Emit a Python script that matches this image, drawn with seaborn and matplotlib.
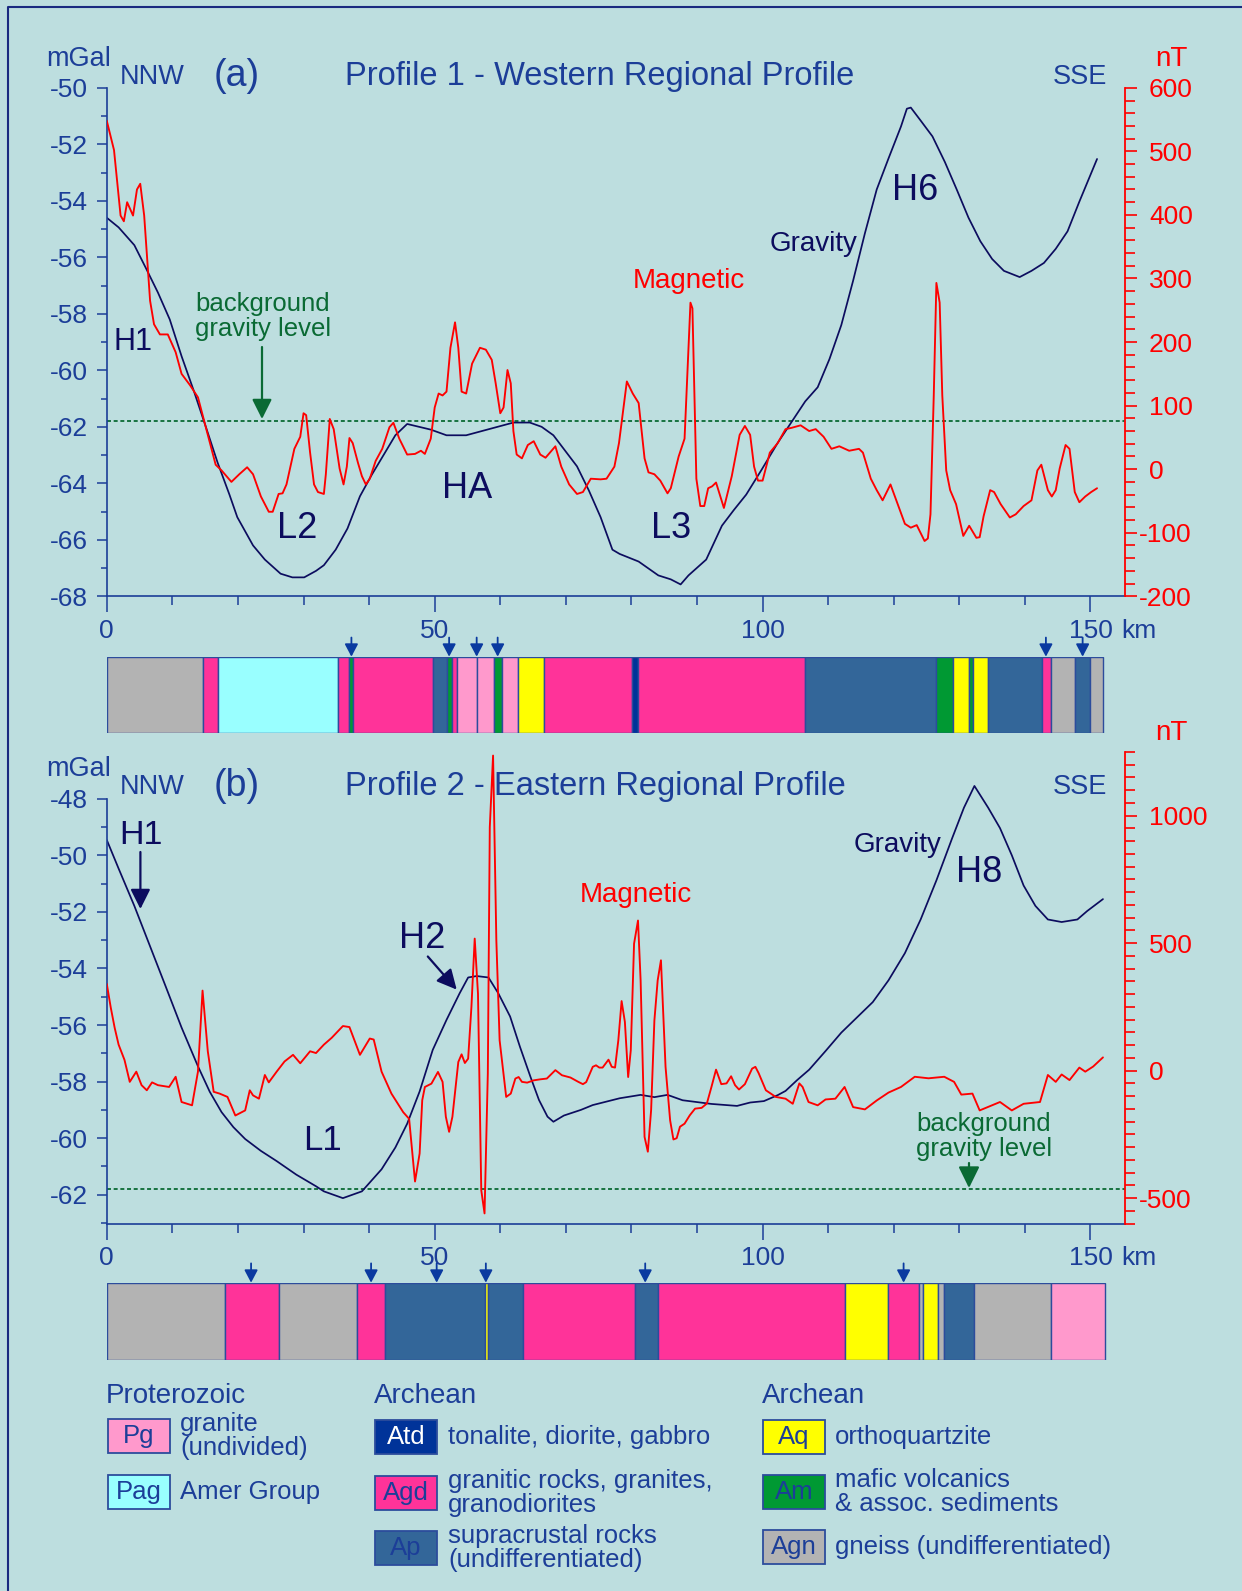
import matplotlib
matplotlib.use("Agg")
import matplotlib.pyplot as plt
from matplotlib.patches import Rectangle
from matplotlib.transforms import ScaledTranslation
import seaborn as sns

BG = "#bddedf"
AXBLUE = "#1c3e98"
NAVY = "#0c0c5e"
RED = "#ff0000"
GREEN = "#0a6a34"
EDGE = "#2c4c9c"

UNIT_COLORS = {
    "Pg": "#ff99cc", "Pag": "#99ffff", "Atd": "#003399", "Agd": "#ff3399",
    "Ap": "#336699", "Aq": "#ffff00", "Am": "#009933", "Agn": "#b3b3b3",
}

# profile 1 - western
grav1_km = [0, 1.8, 4.2, 6.0, 7.8, 9.6, 11.4, 13.3, 15.1, 16.9, 18.7, 19.9, 22.3, 24.1, 26.5, 28.3,
            30.1, 31.9, 33.1, 34.9, 36.7, 38.6, 40.4, 42.2, 44.0, 45.8, 47.6, 49.4, 51.8, 54.8, 57.2,
            59.6, 62.0, 64.5, 66.3, 68.1, 69.9, 71.7, 73.5, 75.3, 77.1, 78.2, 81.1, 84.1, 86.0, 87.5,
            88.7, 91.4, 93.8, 95.6, 97.5, 99.9, 102.3, 104.7, 106.5, 108.4, 110.2, 112.0, 113.8, 115.6,
            117.4, 119.2, 121.1, 122.0, 122.6, 124.1, 125.9, 127.8, 129.6, 131.4, 133.2, 135.0, 136.8,
            139.2, 141.0, 142.9, 144.7, 146.5, 148.3, 151.0]
grav1_mgal = [-54.6, -54.94, -55.57, -56.4, -57.25, -58.2, -59.5, -60.75, -62.0, -63.27, -64.4, -65.2,
              -66.2, -66.7, -67.2, -67.33, -67.33, -67.1, -66.9, -66.35, -65.6, -64.46, -63.7, -63.0,
              -62.3, -61.9, -62.0, -62.1, -62.3, -62.3, -62.15, -62.0, -61.85, -61.85, -62.0, -62.3,
              -62.85, -63.4, -64.25, -65.2, -66.35, -66.5, -66.77, -67.26, -67.4, -67.58, -67.26, -66.7,
              -65.5, -64.95, -64.4, -63.5, -62.57, -61.73, -61.1, -60.6, -59.6, -58.4, -56.83, -55.15,
              -53.6, -52.5, -51.37, -50.74, -50.7, -51.16, -51.72, -52.63, -53.6, -54.6, -55.43, -56.06,
              -56.48, -56.7, -56.48, -56.2, -55.7, -55.08, -54.03, -52.52]
mag1_km = [0, 1.1, 2.1, 2.6, 3.1, 4.0, 4.6, 5.1, 5.7, 6.6, 7.2, 8.1, 9.3, 10.5, 11.4, 12.7, 13.9, 15.1,
           16.6, 17.5, 19.0, 20.2, 21.4, 22.3, 23.5, 24.7, 25.3, 26.2, 26.8, 27.4, 28.6, 29.5, 30.0, 30.4,
           31.0, 31.6, 32.2, 33.1, 33.4, 34.0, 34.6, 35.5, 36.1, 36.6, 37.0, 37.5, 38.3, 38.9, 39.5, 40.1,
           41.0, 42.0, 43.1, 43.7, 44.6, 45.8, 47.0, 47.9, 48.5, 49.4, 50.0, 50.6, 51.2, 51.8, 52.4, 53.1,
           53.6, 54.1, 54.8, 55.7, 56.9, 57.8, 58.7, 59.3, 60.0, 60.5, 61.1, 61.6, 62.0, 62.5, 63.3, 64.2,
           65.1, 66.1, 66.9, 68.4, 69.3, 70.5, 71.7, 72.6, 73.8, 75.3, 76.2, 77.4,
           78.1, 79.3, 80.2, 81.1, 82.0, 82.6, 83.5, 84.4, 85.5, 86.0, 87.2, 88.1, 89.0, 89.3, 89.9, 90.5,
           91.1, 91.7, 92.3, 92.9, 94.1, 95.3, 96.5, 97.3, 98.1, 98.7, 99.3, 100.0, 101.1, 102.3, 103.5,
           104.4, 105.8, 107.1, 108.1, 109.3, 110.5, 111.7, 113.2, 114.7, 115.3, 116.5, 117.4, 118.3,
           119.5, 120.5, 121.7, 122.6, 123.5, 124.7, 125.2, 125.6, 126.1, 126.5, 127.0, 127.4, 128.0,
           128.6, 129.5, 130.6, 131.5, 132.6, 133.1, 133.7, 134.7, 135.3, 136.3, 137.7, 138.6, 139.8,
           141.0, 141.9, 142.5, 143.5, 144.1, 144.7, 145.3, 146.2, 146.8, 147.6, 148.3, 149.2, 150.1, 151.0]
mag1_nt = [548, 502, 399, 390, 420, 399, 440, 449, 399, 265, 228, 212, 212, 184, 150, 132, 113, 66, 7, -2,
           -20, -8, 3, -8, -43, -67, -67, -39, -38, -24, 32, 51, 88, 85, 26, -24, -36, -39, -8, 79, 63, 1,
           -24, 4, 49, 41, 10, -11, -24, -15, 13, 32, 66, 73, 48, 23, 24, 29, 24, 48, 97, 119, 116, 122,
           191, 231, 191, 122, 119, 166, 191, 188, 172, 135, 88, 97, 156, 135, 60, 23, 17, 38, 44, 23, 18,
           36, 4, -24, -39, -36, -15, -16, -15, 4,
           41, 138, 119, 104, 17, -5, -8, -18, -38, -30, 20, 48, 262, 253, -15, -58, -58, -30, -27, -21,
           -61, -11, 54, 68, 54, 4, -18, -18, 26, 41, 63, 65, 69, 60, 63, 51, 32, 36, 29, 32, 26, -15, -33,
           -49, -24, -52, -86, -92, -88, -113, -109, -71, 116, 293, 262, 116, -2, -33, -55, -105, -89,
           -108, -107, -74, -33, -36, -55, -76, -71, -58, -49, -2, 7, -33, -43, -33, 1, 38, 32, -36, -52,
           -43, -36, -30]
geo1_edges = [0, 14.6, 16.9, 35.2, 36.9, 37.6, 49.8, 51.9, 52.6, 53.4, 56.4, 59.0, 60.3, 62.7, 66.7, 80.1,
              81.0, 106.5, 126.5, 129.1, 131.5, 132.1, 134.3, 142.6, 144.0, 147.7, 149.9, 151.9]
geo1_units = ["Agn", "Agd", "Pag", "Agd", "Am", "Agd", "Ap", "Am", "Agd", "Pg", "Pg", "Am", "Pg", "Aq",
              "Agd", "Atd", "Agd", "Ap", "Am", "Aq", "Am", "Aq", "Ap", "Agd", "Agn", "Ap", "Agn"]
geo1_arrows = [37.3, 52.2, 56.4, 59.6, 143.2, 148.8]

# profile 2 - eastern
grav2_km = [0, 1.8, 4.2, 6.6, 9.0, 11.4, 13.9, 15.7, 17.5, 19.3, 21.1, 23.5, 25.9, 28.9, 31.9, 33.1, 36.0,
            38.9, 41.9, 44.0, 45.8, 47.7, 49.7, 51.8, 53.8, 55.1, 56.4, 58.2, 59.7, 61.5, 63.0, 64.6, 65.9,
            67.2, 68.1, 69.7, 72.3, 74.1, 78.2, 81.4, 83.5, 85.5, 87.8, 92.2, 96.1, 98.1, 100.2, 102.3,
            103.5, 105.3, 107.1, 109.6, 112.0, 114.4, 116.8, 119.2, 121.7, 124.1, 126.5, 128.9, 130.7,
            132.3, 134.4, 136.2, 138.0, 139.8, 141.6, 143.5, 145.6, 148.0, 149.5, 151.9]
grav2_mgal = [-49.46, -50.47, -51.79, -53.22, -54.65, -56.09, -57.46, -58.36, -59.08, -59.61, -60.03,
              -60.45, -60.81, -61.29, -61.7, -61.88, -62.12, -61.88, -61.1, -60.33, -59.49, -58.35, -56.88,
              -55.82, -54.88, -54.32, -54.27, -54.32, -54.88, -55.7, -56.77, -57.83, -58.65, -59.24,
              -59.42, -59.2, -59.0, -58.83, -58.59, -58.47, -58.55, -58.47, -58.66, -58.79, -58.86,
              -58.74, -58.69, -58.48, -58.33, -57.94, -57.58, -56.92, -56.27, -55.73, -55.19, -54.42,
              -53.46, -52.27, -50.89, -49.4, -48.32, -47.55, -48.32, -49.04, -50.0, -51.07, -51.79,
              -52.27, -52.36, -52.27, -51.97, -51.55]
mag2_km = [0, 0.6, 1.2, 1.8, 2.7, 3.5, 4.5, 5.3, 6.1, 6.9, 7.8, 9.5, 10.5, 11.4, 13.0, 13.9, 14.6, 15.4,
           16.3, 17.2, 18.4, 19.6, 21.1, 21.8, 22.3, 23.2, 24.1, 24.7, 25.9, 27.1, 28.4, 29.5, 31.0, 31.9,
           33.1, 34.3, 36.0, 37.0, 38.6, 40.1, 40.7, 41.9, 43.4, 45.2, 46.1, 47.0, 47.7, 48.1, 48.5, 49.5,
           50.5, 51.2, 51.7, 52.2, 52.7, 53.6, 54.1, 54.6, 55.1, 55.6, 56.1, 56.6, 57.1, 57.6, 58.1, 58.4,
           58.9, 59.4, 59.9, 60.6, 60.9, 61.6, 62.3, 62.8, 63.3, 64.1, 65.1, 66.1, 67.1, 68.4, 69.4, 70.7,
           71.9, 72.6, 73.1, 74.1, 74.6, 75.1, 75.6, 76.5, 77.0, 77.5, 78.0, 78.5, 79.0, 79.5, 79.9, 80.4,
           81.0, 81.4, 82.0, 82.5, 83.0, 83.5, 84.0, 84.5, 85.2, 85.9, 86.4, 86.9, 87.4, 88.1, 88.9, 89.7,
           90.7, 91.5, 92.2, 92.9, 93.7, 94.5, 95.2, 95.8, 96.4, 97.3, 98.4, 98.9, 99.4, 100.5, 102.0,
           103.5, 104.6, 105.6, 106.1, 107.0, 108.4, 109.6, 111.1, 112.5, 113.8, 115.6, 117.4, 119.2,
           121.1, 123.2, 125.3, 127.7, 129.2, 130.3, 132.0, 133.1, 134.7, 136.2, 138.0, 139.8, 142.3,
           143.5, 144.7, 145.6, 146.8, 148.3, 149.2, 150.4, 151.9]
mag2_nt = [340, 248, 168, 102, 42, -44, -4, -57, -77, -46, -57, -64, -24, -123, -136, -4, 314, 76, -83,
           -90, -103, -176, -156, -77, -97, -110, -17, -46, -4, 36, 62, 29, 76, 69, 102, 129, 175, 171, 62,
           126, 122, -4, -90, -163, -189, -435, -325, -116, -64, -51, -5, -44, -181, -240, -181, 34, 64,
           30, 47, 250, 518, 302, -469, -560, -11, 955, 1236, 511, 119, -38, -103, -90, -31, -25, -44,
           -47, -38, -34, -31, 2, -18, -27, -44, -53, -45, 15, 21, 12, 12, 43, 15, 12, 119, 273, 191,
           -25, 80, 498, 589, 354, -260, -318, -155, 197, 354, 433, 15, -195, -270, -265, -220, -208,
           -175, -149, -146, -129, -64, 4, -53, -50, -22, -57, -74, -53, 8, 15, -10, -77, -103, -110,
           -130, -50, -64, -123, -136, -113, -110, -64, -143, -152, -117, -86, -64, -24, -30, -24, -44,
           -94, -90, -156, -139, -123, -156, -130, -123, -17, -44, -15, -37, 12, -4, 16, 52]
geo2_edges = [0, 18.0, 26.2, 38.2, 42.4, 57.6, 58.1, 63.5, 80.5, 84.0, 112.5, 119.1, 123.9, 124.4, 126.7,
              127.6, 132.3, 144.0, 152.2]
geo2_units = ["Agn", "Agd", "Agn", "Agd", "Ap", "Aq", "Ap", "Agd", "Ap", "Agd", "Aq", "Agd", "Agn", "Aq",
              "Agn", "Ap", "Agn", "Pg"]
geo2_arrows = [22.0, 40.3, 50.3, 57.8, 82.1, 121.5]

BACKGROUND_LEVEL = -61.8
KM_TICKS = [0, 50, 100, 150]

legend_codes = ["Pg", "Pag", "Atd", "Agd", "Ap", "Aq", "Am", "Agn"]
legend_text = ["granite\n(undivided)", "Amer Group", "tonalite, diorite, gabbro",
               "granitic rocks, granites,\ngranodiorites", "supracrustal rocks\n(undifferentiated)",
               "orthoquartzite", "mafic volcanics\n& assoc. sediments", "gneiss (undifferentiated)"]
legend_headers = ["Proterozoic", "Archean", "Archean"]

W, H = 1242, 1591
XMAX = 155.2

sns.set_theme(style="ticks", rc={"axes.facecolor": BG, "figure.facecolor": BG})
plt.rcParams["font.family"] = ["Liberation Sans", "DejaVu Sans"]
plt.rcParams["axes.unicode_minus"] = False

fig = plt.figure(figsize=(W / 100, H / 100), dpi=100, facecolor=BG)


def rect(left, top, right, bottom):
    return [left / W, 1 - bottom / H, (right - left) / W, (bottom - top) / H]


def draw_profile(box, g_km, g_val, m_km, m_val, g_lim, g_top, m_lim, m_major, m_minor):
    ax = fig.add_axes(box)
    ax.patch.set_alpha(0)
    sns.lineplot(x=g_km, y=g_val, ax=ax, color=NAVY, lw=1.25, estimator=None, sort=False)
    ax.axhline(BACKGROUND_LEVEL, color=GREEN, lw=1.3, ls=(0, (2.2, 1.5)), zorder=1)
    ax.set_xlim(0, XMAX)
    ax.set_ylim(*g_lim)
    gmin = int(round(g_lim[0]))
    ax.set_yticks(list(range(gmin, g_top + 1, 2)) if gmin % 2 == 0 else list(range(gmin + 1, g_top + 1, 2)))
    ax.set_yticks(list(range(gmin, g_top + 1)), minor=True)
    ax.set_xticks(KM_TICKS, labels=[str(k) for k in KM_TICKS])
    ax.set_xticks(list(range(0, 151, 10)), minor=True)
    ax.set_xlabel("")
    ax.set_ylabel("")
    for s in ("top", "right"):
        ax.spines[s].set_visible(False)
    for s in ("left", "bottom"):
        ax.spines[s].set_color(AXBLUE)
        ax.spines[s].set_linewidth(1.2)
    ax.spines["left"].set_bounds(g_lim[0], g_top)
    ax.tick_params(axis="y", which="major", length=7.5, width=1.1, color=AXBLUE,
                   labelcolor=AXBLUE, labelsize=19, pad=6)
    ax.tick_params(axis="y", which="minor", length=4.5, width=1.1, color=AXBLUE)
    ax.tick_params(axis="x", which="major", length=11.5, width=1.1, color=AXBLUE,
                   labelcolor=AXBLUE, labelsize=19, pad=4.5)
    ax.tick_params(axis="x", which="minor", length=6.5, width=1.1, color=AXBLUE)

    ax2 = ax.twinx()
    ax2.patch.set_alpha(0)
    sns.lineplot(x=m_km, y=m_val, ax=ax2, color=RED, lw=1.35, estimator=None, sort=False)
    ax2.set_ylim(*m_lim)
    ax2.set_yticks(m_major, labels=[str(v) for v in m_major])
    ax2.set_yticks(m_minor, minor=True)
    ax2.set_ylabel("")
    for s in ("top", "left", "bottom"):
        ax2.spines[s].set_visible(False)
    ax2.spines["right"].set_color(RED)
    ax2.spines["right"].set_linewidth(1.3)
    ax2.tick_params(axis="y", which="major", length=8.5, width=1.2, color=RED,
                    labelcolor=RED, labelsize=19, pad=9)
    ax2.tick_params(axis="y", which="minor", length=7, width=1.2, color=RED)
    # minus signs hang to the left of the digit column, as in the original
    hang = ScaledTranslation(-0.1, 0, fig.dpi_scale_trans)
    for tick in ax2.yaxis.get_major_ticks():
        if tick.label2.get_text().startswith("-"):
            tick.label2.set_transform(tick.label2.get_transform() + hang)
    return ax, ax2


def draw_geology(box, edges, units, arrows):
    gx = fig.add_axes(box)
    starts = edges[:-1]
    widths = [b - a for a, b in zip(edges[:-1], edges[1:])]
    gx.barh([0.5] * len(units), widths, left=starts, height=1.0,
            color=[UNIT_COLORS[u] for u in units], edgecolor=EDGE, linewidth=1.0)
    gx.set_xlim(0, XMAX)
    gx.set_ylim(0, 1)
    gx.axis("off")
    for km in arrows:
        gx.annotate("", xy=(km, 1.0), xytext=(km, 1.25), annotation_clip=False,
                    arrowprops=dict(arrowstyle="-|>,head_length=0.38,head_width=0.2",
                                    color="#0a3aa0", lw=1.3, shrinkA=0, shrinkB=0,
                                    mutation_scale=20))


draw_profile(rect(106.8, 87.8, 1124.6, 596.3), grav1_km, grav1_mgal, mag1_km, mag1_nt,
             (-68, -50), -50, (-200, 600), list(range(-200, 601, 100)), list(range(-200, 601, 20)))
draw_geology(rect(106.8, 656.7, 1124.6, 733.3), geo1_edges, geo1_units, geo1_arrows)

draw_profile(rect(106.8, 752, 1124.6, 1223.6), grav2_km, grav2_mgal, mag2_km, mag2_nt,
             (-63.02, -46.35), -48, (-600, 1250), [-500, 0, 500, 1000], list(range(-600, 1251, 50)))
draw_geology(rect(106.8, 1282.7, 1124.6, 1360), geo2_edges, geo2_units, geo2_arrows)

# overlay in pixel coordinates for annotations and legend
ov = fig.add_axes([0, 0, 1, 1])
ov.set_xlim(0, W)
ov.set_ylim(H, 0)
ov.axis("off")
ov.plot([8, 8, W + 5], [H + 5, 7, 7], color="#1a2a80", lw=1.5, clip_on=False)


def txt(x, y, s, size, color, ha="left", **kw):
    ov.text(x, y, s, fontsize=size, color=color, ha=ha, va="center", **kw)


def arrow(x0, y0, x1, y1, color, hl=0.6, hw=0.3):
    ov.annotate("", xy=(x1, y1), xytext=(x0, y0),
                arrowprops=dict(arrowstyle=f"-|>,head_length={hl},head_width={hw}",
                                color=color, lw=1.6, shrinkA=0, shrinkB=0, mutation_scale=20))


for top, letter, title in ((0, "(a)", "Profile 1 - Western Regional Profile"),
                           (710, "(b)", "Profile 2 - Eastern Regional Profile")):
    txt(46, 59 + top, "mGal", 19.5, AXBLUE)
    txt(120, 77 + top, "NNW", 19.5, AXBLUE)
    txt(214, 76 + top, letter, 27, AXBLUE)
    txt(345, 76 + top, title, 23.5, AXBLUE)
    txt(1053, 77 + top, "SSE", 19.5, AXBLUE)
txt(1155, 59, "nT", 20, RED)
txt(1155, 733, "nT", 20, RED)
txt(1121, 631, "km", 19, AXBLUE)
txt(1121, 1258, "km", 19, AXBLUE)

# panel a annotations
txt(114, 342, "H1", 22, NAVY)
txt(277, 528, "L2", 26, NAVY)
txt(442, 488, "HA", 26, NAVY)
txt(651, 529, "L3", 26, NAVY)
txt(892, 190, "H6", 26, NAVY)
txt(770, 244, "Gravity", 20, NAVY)
txt(633, 281, "Magnetic", 20, RED)
txt(263, 304, "background", 18.5, GREEN, ha="center")
txt(263, 329, "gravity level", 18.5, GREEN, ha="center")
arrow(262, 347, 262, 419, GREEN)

# panel b annotations
txt(119, 835, "H1", 24.5, NAVY)
arrow(140.4, 852, 140.4, 909, NAVY)
txt(399, 938, "H2", 26, NAVY)
arrow(427.8, 956.5, 456.7, 989.6, NAVY)
txt(303, 1141, "L1", 25, NAVY)
txt(956, 872, "H8", 26, NAVY)
txt(854, 845, "Gravity", 20, NAVY)
txt(580, 895, "Magnetic", 20, RED)
txt(984, 1124, "background", 18.5, GREEN, ha="center")
txt(984, 1149, "gravity level", 18.5, GREEN, ha="center")
arrow(969, 1163, 969, 1188, GREEN, hl=0.65, hw=0.32)

# legend
header_x = [106, 374, 762]
for x, head in zip(header_x, legend_headers):
    txt(x, 1396, head, 20, AXBLUE)

legend_pos = [(108, 1419), (108, 1475), (375, 1420), (375, 1476), (375, 1531),
              (763, 1420), (763, 1475), (763, 1530)]
text_x = {108: 180, 375: 448, 763: 835}
for (x, y), code, desc in zip(legend_pos, legend_codes, legend_text):
    ov.add_patch(Rectangle((x, y), 62, 34, facecolor=UNIT_COLORS[code], edgecolor=EDGE, lw=1.3))
    txt(x + 31, y + 17, code, 18.5, "white" if code == "Atd" else AXBLUE, ha="center")
    lines = desc.split("\n")
    if len(lines) == 1:
        txt(text_x[x], y + 17, lines[0], 18.5, AXBLUE)
    else:
        txt(text_x[x], y + 5, lines[0], 18.5, AXBLUE)
        txt(text_x[x], y + 29, lines[1], 18.5, AXBLUE)

fig.savefig("out.png", dpi=100, facecolor=BG)
